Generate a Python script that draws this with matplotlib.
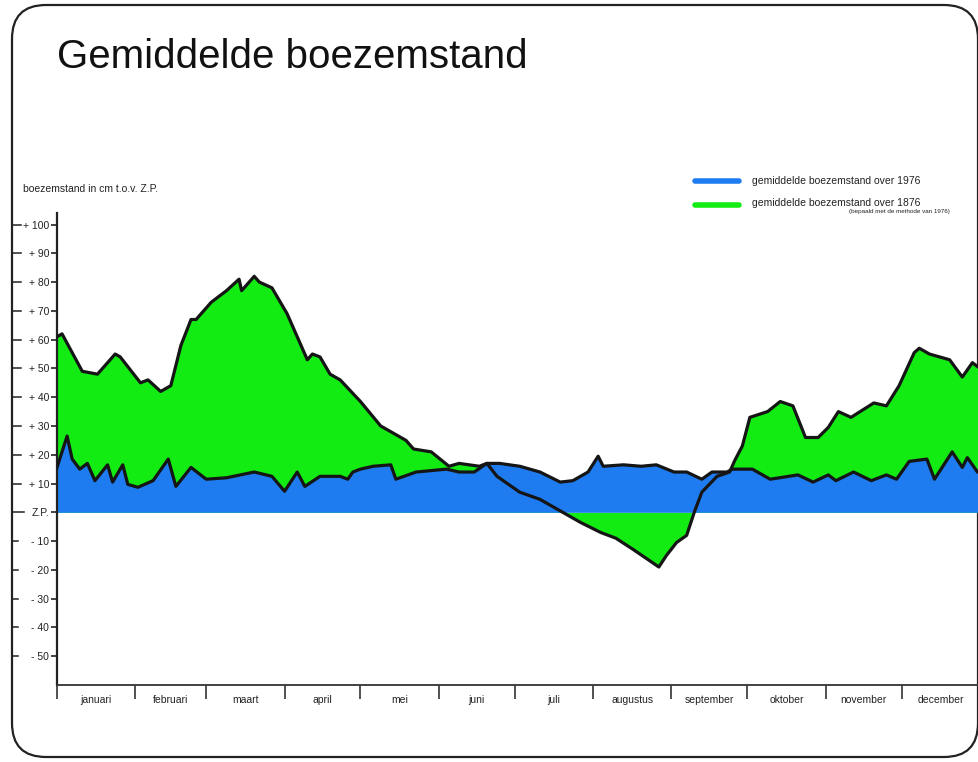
import matplotlib
matplotlib.use("Agg")
import matplotlib.pyplot as plt
import matplotlib.transforms as mtransforms
from matplotlib.patches import FancyBboxPatch
import numpy as np

plt.rcParams["font.family"] = ["Liberation Sans", "DejaVu Sans"]

# day of year / boezemstand in cm t.o.v. Z.P.
days_1876 = [0, 2, 10, 16, 23, 25, 33, 36, 41, 45, 49, 53, 55, 61, 67, 72, 73, 78, 80, 85,
             91, 99, 101, 104, 108, 112, 120, 128, 138, 141, 148, 155, 159, 167, 170, 174,
             183, 191, 199, 207, 215, 221, 228, 233, 238, 241, 245, 249, 252, 255, 261, 266,
             268, 271, 274, 281, 286, 291, 296, 301, 305, 309, 314, 323, 328, 333, 339, 341,
             345, 353, 358, 362, 365]
level_1876 = [61, 62, 49, 48, 55, 54, 45, 46, 42, 44, 58, 67, 67, 73, 77, 81, 77, 82, 80, 78,
              69, 53, 55, 54, 48, 46, 38.5, 30, 25, 22, 21, 16, 17, 16, 17, 12.5,
              7, 4.5, 0.5, -3.5, -7, -9, -13, -16, -19, -15, -10.5, -8, 0, 7, 12.5, 14,
              18, 23, 33, 35, 38.5, 37, 26, 26, 29.5, 35, 33, 38, 37, 44, 55.5, 57,
              55, 53, 47, 52, 50]

days_1976 = [0, 4, 6, 9, 12, 15, 20, 22, 26, 28, 32, 38, 44, 47, 53, 59, 67, 78, 85, 90,
             95, 98, 104, 112, 115, 117, 120, 125, 132, 134, 142, 154, 159, 165, 170, 175,
             183, 191, 199, 204, 210, 214, 216, 224, 231, 237, 244, 249, 255, 259, 265, 267,
             275, 282, 293, 299, 305, 308, 315, 322, 328, 332, 337, 344, 347, 354, 358, 360,
             364, 365]
level_1976 = [15.6, 26.5, 18.5, 15, 17, 11, 16.5, 10.5, 16.5, 9.7, 8.7, 11, 18.5, 9, 15.6, 11.5,
              12, 14, 12.5, 7.3, 14, 9, 12.5, 12.5, 11.5, 14, 15, 16, 16.5, 11.5, 14, 15, 14,
              14, 17, 17, 16, 14, 10.5, 11, 14, 19.5, 16, 16.5, 16, 16.5, 14, 14, 11.5, 14,
              14, 15, 15, 11.5, 13, 10.5, 13, 11, 14, 11, 13, 11.5, 17.7, 18.5, 11.5, 21,
              15.6, 19, 14, 14]

months = ["januari", "februari", "maart", "april", "mei", "juni", "juli", "augustus",
          "september", "oktober", "november", "december"]
month_starts = [0, 31, 59, 90, 120, 151, 181, 212, 243, 273, 304, 334, 365]

y_ticks = [100, 90, 80, 70, 60, 50, 40, 30, 20, 10, 0, -10, -20, -30, -40, -50]
y_labels = ["+ 100", "+ 90", "+ 80", "+ 70", "+ 60", "+ 50", "+ 40", "+ 30", "+ 20",
            "+ 10", "Z.P.", "- 10", "- 20", "- 30", "- 40", "- 50"]

green = "#12ec12"
blue = "#1f7cf0"
W, H = 979, 762

fig = plt.figure(figsize=(W / 100, H / 100), dpi=100)

# background layer in pixel coordinates (frame, title, legend)
bg = fig.add_axes([0, 0, 1, 1], zorder=0)
bg.set_xlim(0, W)
bg.set_ylim(H, 0)
bg.axis("off")
bg.add_patch(FancyBboxPatch((12, 5), 966, 752, boxstyle="round,pad=0,rounding_size=34",
                            fill=False, lw=1.6, ec="#222222"))
bg.text(57, 68, "Gemiddelde boezemstand", fontsize=29, va="baseline", ha="left", color="#111111")
bg.text(23, 189, "boezemstand in cm t.o.v. Z.P.", fontsize=7.5, va="center", ha="left", color="#222222")

bg.plot([695, 739], [181, 181], color=blue, lw=4, solid_capstyle="round")
bg.text(752, 181, "gemiddelde boezemstand over 1976", fontsize=7.5, va="center", color="#222222")
bg.plot([695, 739], [205, 205], color=green, lw=4, solid_capstyle="round")
bg.text(752, 203, "gemiddelde boezemstand over 1876", fontsize=7.5, va="center", color="#222222")
bg.text(950, 212, "(bepaald met de methode van 1976)", fontsize=4.5, va="center", ha="right", color="#222222")

ax = fig.add_axes([57 / W, 1 - 685 / H, 923 / W, (685 - 213) / H], zorder=1)
ax.patch.set_alpha(0)

x76 = np.array(days_1876)
y76 = np.array(level_1876)
ax.fill_between(days_1876, 0, level_1876, color=green, lw=0, zorder=1)
ax.fill_between(days_1976, 0, level_1976, color=blue, lw=0, zorder=2)
ax.plot(days_1876, level_1876, color="#151515", lw=2.3, zorder=3, solid_joinstyle="round")
ax.plot(days_1976, level_1976, color="#151515", lw=2.3, zorder=3, solid_joinstyle="round")

ax.set_xlim(0, 365)
ax.set_ylim(-60, 104)

for side in ["top", "right"]:
    ax.spines[side].set_visible(False)
ax.spines["left"].set_linewidth(1.6)
ax.spines["left"].set_color("#222222")
ax.spines["bottom"].set_linewidth(1.3)
ax.spines["bottom"].set_color("#333333")

ax.set_yticks(y_ticks)
ax.set_yticklabels(y_labels, fontsize=7.5, color="#222222")
ax.tick_params(axis="y", length=4.5, width=1.2, pad=1, color="#222222")

# ruler dashes on the outer frame line
trans = mtransforms.blended_transform_factory(bg.transData, ax.transData)
for v in y_ticks:
    ax.plot([13, 21 if v > 0 else (24 if v == 0 else 18)], [v, v], color="#222222", lw=1.1,
            transform=trans, clip_on=False)

ax.set_xticks(month_starts[:-1])
ax.set_xticklabels([])
ax.tick_params(axis="x", which="major", length=10, width=1.2, direction="out", color="#333333")
mids = [(a + b) / 2 for a, b in zip(month_starts[:-1], month_starts[1:])]
ax.set_xticks(mids, minor=True)
ax.set_xticklabels(months, minor=True, fontsize=7.5, color="#222222")
ax.tick_params(axis="x", which="minor", length=0, pad=7)

fig.savefig("out.png", dpi=100)
